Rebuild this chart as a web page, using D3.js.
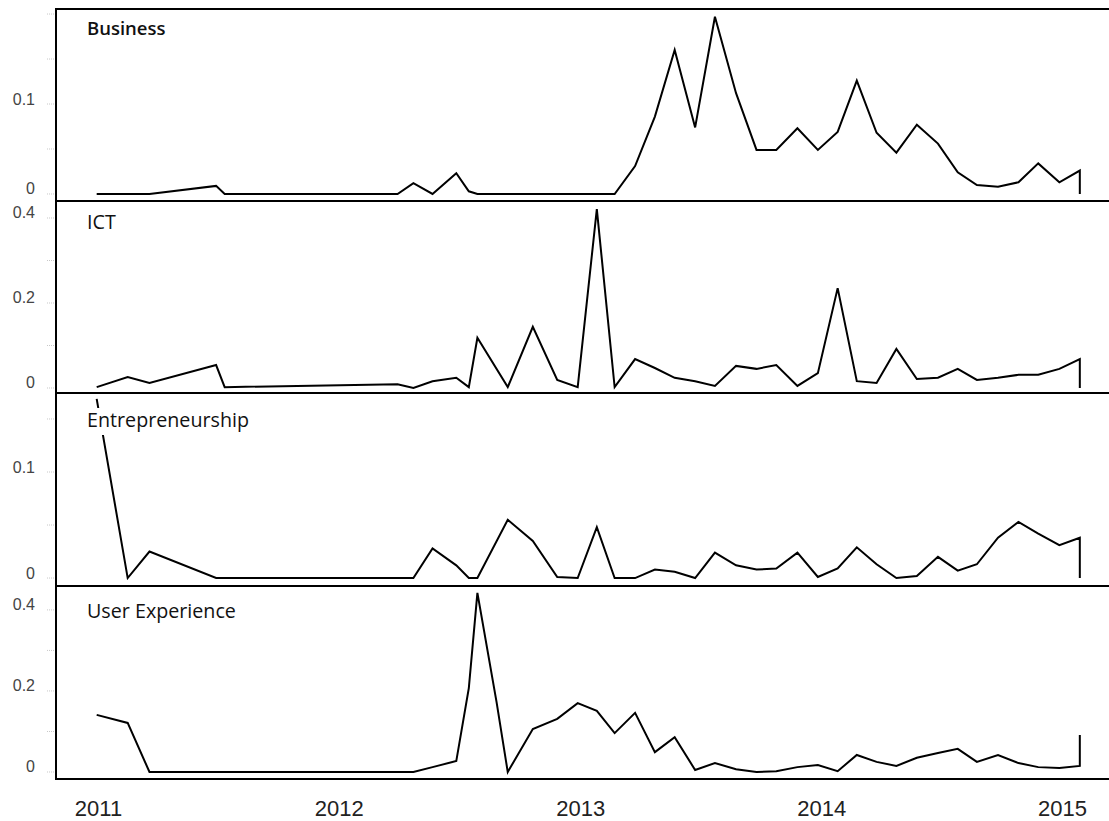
<!DOCTYPE html>
<html>
<head>
<meta charset="utf-8">
<script src="https://cdn.jsdelivr.net/npm/d3@7"></script>
<style>
  html, body { margin: 0; padding: 0; background: #fff; }
  svg { display: block; }
</style>
</head>
<body>
<svg id="chart" width="1109" height="821"></svg>
<script>
// ---------------- DATA ----------------
const dates = [
  "2010-12-30","2011-02-15","2011-03-20","2011-06-29","2011-07-12",
  "2012-03-30","2012-04-23","2012-05-22","2012-06-27","2012-07-16","2012-07-29",
  "2012-09-13","2012-10-21","2012-11-27","2012-12-28",
  "2013-01-26","2013-02-22","2013-03-25","2013-04-24","2013-05-24","2013-06-24",
  "2013-07-24","2013-08-25","2013-09-25","2013-10-25","2013-11-26","2013-12-27",
  "2014-01-26","2014-02-24","2014-03-26","2014-04-25","2014-05-26","2014-06-27",
  "2014-07-27","2014-08-25","2014-09-26","2014-10-27","2014-11-26","2014-12-28",
  "2015-01-28","2015-01-28"
];
const uxDates = [
  "2010-12-30","2011-02-15","2011-03-20","2011-06-29","2011-07-12",
  "2012-03-30","2012-04-23","2012-05-22","2012-06-27","2012-07-16","2012-07-29",
  "2012-08-27",
  "2012-09-13","2012-10-21","2012-11-27","2012-12-28",
  "2013-01-26","2013-02-22","2013-03-25","2013-04-24","2013-05-24","2013-06-24",
  "2013-07-24","2013-08-25","2013-09-25","2013-10-25","2013-11-26","2013-12-27",
  "2014-01-26","2014-02-24","2014-03-26","2014-04-25","2014-05-26","2014-06-27",
  "2014-07-27","2014-08-25","2014-09-26","2014-10-27","2014-11-26","2014-12-28",
  "2015-01-28","2015-01-28"
];

const businessValues = [
  0, 0, 0, 0.009, 0,
  0, 0.012, 0, 0.023, 0.003, 0,
  0, 0, 0, 0,
  0, 0, 0.031, 0.086, 0.160, 0.074,
  0.197, 0.112, 0.049, 0.049, 0.073, 0.049,
  0.069, 0.126, 0.068, 0.046, 0.077, 0.056,
  0.024, 0.010, 0.008, 0.013, 0.034, 0.013,
  0.026, 0
];
const ictValues = [
  0.002, 0.026, 0.012, 0.054, 0.002,
  0.009, 0.000, 0.016, 0.024, 0.002, 0.118,
  0.002, 0.144, 0.019, 0.002,
  0.421, 0.002, 0.068, 0.047, 0.024, 0.016,
  0.005, 0.052, 0.045, 0.054, 0.005, 0.035,
  0.235, 0.016, 0.012, 0.092, 0.021, 0.024,
  0.045, 0.019, 0.024, 0.031, 0.031, 0.045,
  0.068, 0
];
const entrepreneurshipValues = [
  0.169, 0, 0.025, 0, 0,
  0, 0, 0.028, 0.012, 0, 0,
  0.055, 0.035, 0.001, 0,
  0.048, 0, 0, 0.008, 0.006, 0,
  0.024, 0.012, 0.008, 0.009, 0.024, 0.001,
  0.009, 0.029, 0.013, 0.000, 0.002, 0.020,
  0.007, 0.013, 0.038, 0.053, 0.042, 0.031,
  0.038, 0
];
const userExperienceValues = [
  0.141, 0.121, 0, 0, 0,
  0, 0, 0.012, 0.027, 0.207, 0.442,
  0.173,
  0, 0.106, 0.131, 0.170,
  0.151, 0.096, 0.146, 0.049, 0.086, 0.005,
  0.022, 0.007, 0.000, 0.002, 0.012, 0.017,
  0.002, 0.042, 0.025, 0.015, 0.035, 0.047,
  0.057, 0.025, 0.042, 0.022, 0.012, 0.010,
  0.015, 0.091
];

const panelTitles = ["Business", "ICT", "Entrepreneurship", "User Experience"];
const yTickValues = [[0, 0.1], [0, 0.2, 0.4], [0, 0.1], [0, 0.2, 0.4]];
const yTickLabels = [["0", "0.1"], ["0", "0.2", "0.4"], ["0", "0.1"], ["0", "0.2", "0.4"]];
const minorTickValues = [[0, 0.05, 0.1, 0.15, 0.2], [0, 0.1, 0.2, 0.3, 0.4], [0, 0.05, 0.1, 0.15], [0, 0.1, 0.2, 0.3, 0.4]];
const yearTicks = ["2011-01-01", "2012-01-01", "2013-01-01", "2014-01-01", "2015-01-01"];
const yearLabels = ["2011", "2012", "2013", "2014", "2015"];

// ---------------- LAYOUT ----------------
const parse = d3.timeParse("%Y-%m-%d");
const W = 1109;
const left = 56;
const panelEdges = [9, 201, 393, 586, 779];
const yDomains = [[-0.0078, 0.2056], [-0.0118, 0.44], [-0.0075, 0.1745], [-0.0173, 0.459]];
const titleDy = [26, 28, 34, 32];
const titleWeight = [600, 400, 400, 400];
const titleSize = [18.5, 19.7, 19.7, 19.7];

const series = [
  {dates: dates, values: businessValues},
  {dates: dates, values: ictValues},
  {dates: dates, values: entrepreneurshipValues},
  {dates: uxDates, values: userExperienceValues}
];

const svg = d3.select("#chart");

const x = d3.scaleTime()
  .domain([parse("2011-01-01"), parse("2015-01-01")])
  .range([98, 1062]);

series.forEach((s, i) => {
  const top = panelEdges[i], bottom = panelEdges[i + 1];
  const y = d3.scaleLinear().domain(yDomains[i]).range([bottom, top]);
  const g = svg.append("g");

  // minor ticks (faint)
  g.selectAll("line.minor").data(minorTickValues[i]).join("line")
    .attr("class", "minor")
    .attr("x1", left - 9).attr("x2", left - 1)
    .attr("y1", d => y(d)).attr("y2", d => y(d))
    .attr("stroke", "#c8c8c8").attr("stroke-width", 1)
    .attr("stroke-dasharray", "1,1");

  // y axis labels
  const axis = d3.axisLeft(y)
    .tickValues(yTickValues[i])
    .tickFormat((d, k) => yTickLabels[i][k])
    .tickSize(0).tickPadding(21);
  const ag = g.append("g").attr("transform", `translate(${left},0)`).call(axis);
  ag.select(".domain").remove();
  ag.selectAll("text")
    .attr("font-family", "'Liberation Sans', Arial, sans-serif")
    .attr("font-size", 16)
    .attr("fill", "#444")
    .attr("dy", "0.0em");

  // line
  const pts = s.dates.map((d, k) => ({date: parse(d), v: s.values[k]}));
  g.append("path")
    .datum(pts)
    .attr("fill", "none")
    .attr("stroke", "#000")
    .attr("stroke-width", 2)
    .attr("d", d3.line().x(d => x(d.date)).y(d => y(d.v)));

  // title with white background
  const bg = g.append("rect").attr("fill", "#fff");
  const t = g.append("text")
    .attr("x", 87).attr("y", top + titleDy[i])
    .attr("font-family", "'Open Sans', sans-serif")
    .attr("font-size", titleSize[i])
    .attr("font-weight", titleWeight[i])
    .attr("fill", "#111")
    .text(panelTitles[i]);
  const bb = t.node().getBBox();
  bg.attr("x", bb.x - 2).attr("y", bb.y + 2)
    .attr("width", bb.width + 4).attr("height", bb.height);
});

// panel boundary lines
svg.selectAll("line.edge").data(panelEdges).join("line")
  .attr("class", "edge")
  .attr("x1", left).attr("x2", W)
  .attr("y1", d => d).attr("y2", d => d)
  .attr("stroke", "#000").attr("stroke-width", 2);

// left border
svg.append("line")
  .attr("x1", left).attr("x2", left)
  .attr("y1", panelEdges[0] - 1).attr("y2", panelEdges[4] + 1)
  .attr("stroke", "#000").attr("stroke-width", 2);

// x axis
const xAxis = d3.axisBottom(x)
  .tickValues(yearTicks.map(parse))
  .tickFormat((d, k) => yearLabels[k])
  .tickSize(0).tickPadding(21);
const xg = svg.append("g").attr("transform", `translate(0,${panelEdges[4]})`).call(xAxis);
xg.select(".domain").remove();
xg.selectAll("text")
  .attr("font-family", "'Liberation Sans', Arial, sans-serif")
  .attr("font-size", 22)
  .attr("fill", "#222");
</script>
</body>
</html>
